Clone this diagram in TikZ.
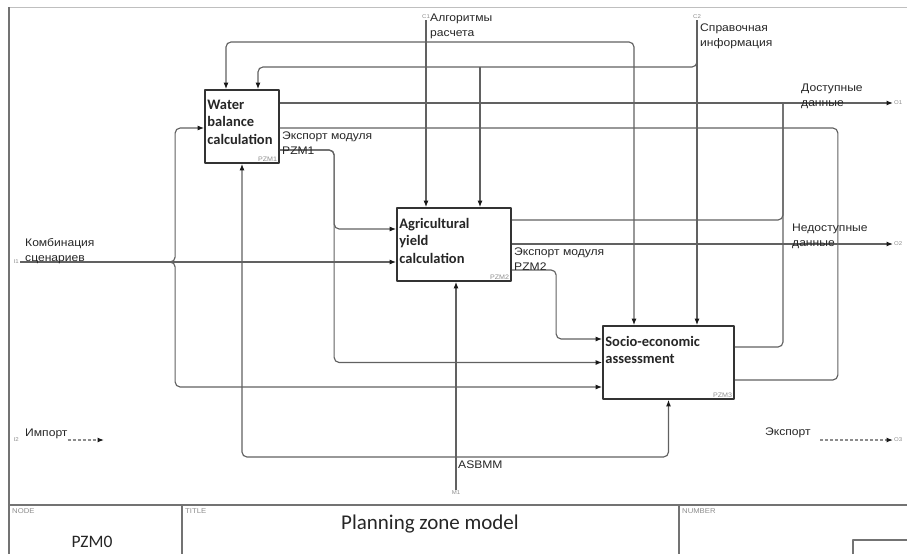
\documentclass[tikz,border=0pt]{standalone}
\usepackage{fontspec}
\setmainfont{Liberation Sans}[FakeStretch=1.1]
\newfontfamily\boxfont{Carlito}
\usetikzlibrary{arrows.meta}

\begin{document}
\begin{tikzpicture}[x=1pt, y=-1pt, line join=round,
  every node/.style={font=\fontsize{11}{15}\selectfont, text=black!85},
  fnbox/.style={draw=black!80, line width=1.7pt, minimum height=73pt, inner sep=0pt},
  fntext/.style={anchor=north west, align=left, inner xsep=3pt, inner ysep=10.5pt, font=\boxfont\bfseries\fontsize{14.5}{17.5}\selectfont},
  fnid/.style={anchor=south east, inner sep=2.5pt, text=black!45, font=\fontsize{6.5}{7}\selectfont},
  lbl/.style={anchor=north west, align=left, inner sep=0pt},
  tag/.style={text=black!45, font=\fontsize{5.5}{6}\selectfont, inner sep=1pt},
  flow/.style={draw=black!62, line width=1.15pt, rounded corners=5pt, -{Latex[length=6.5pt,width=5pt,color=black!90]}},
  pipe/.style={draw=black!62, line width=1.15pt, rounded corners=5pt},
  frame/.style={draw=black!55, line width=1.1pt}]
\useasboundingbox (0,0) rectangle (907,554);
% sheet frame and title block
\draw[draw=black!25, line width=0.6pt] (9,7) -- (907,7);
\draw[frame] (9,7) -- (9,554);
\draw[frame] (9,505) -- (907,505);
\draw[frame] (182,505) -- (182,554);
\draw[frame] (679,505) -- (679,554);
\draw[frame] (853,554) -- (853,540) -- (907,540);
\node[tag, anchor=north west, font=\fontsize{7}{8}\selectfont] at (11,507) {NODE};
\node[tag, anchor=north west, font=\fontsize{7}{8}\selectfont] at (184,507) {TITLE};
\node[tag, anchor=north west, font=\fontsize{7}{8}\selectfont] at (681,507) {NUMBER};
\node[font=\boxfont\fontsize{17.5}{20}\selectfont] (nodeid) at (92,542) {PZM0};
\node[font=\boxfont\fontsize{21}{24}\selectfont] (title) at (430,524) {Planning zone model};
% function boxes
\node[fnbox, minimum width=74pt] (wb) at (242,126.5) {};
\node[fnbox, minimum width=114pt] (ay) at (454,244.5) {};
\node[fnbox, minimum width=131pt] (se) at (668.5,362.5) {};
\node[fntext] (wbt) at (wb.north west) {Water\\balance\\calculation};
\node[fntext] (ayt) at (ay.north west) {Agricultural\\yield\\calculation};
\node[fntext] (set) at (se.north west) {Socio-economic\\assessment};
\node[fnid] at (wb.south east) {PZM1};
\node[fnid] at (ay.south east) {PZM2};
\node[fnid] at (se.south east) {PZM3};
% boundary points and branch points
\coordinate (c1) at (426,20);
\coordinate (c2) at (697,20);
\coordinate (i1) at (20,262);
\coordinate (i2) at (20,440);
\coordinate (m1) at (456,490);
\coordinate (o1) at (893,103);
\coordinate (o2) at (893,244);
\coordinate (o3) at (893,440);
\coordinate (c1j) at (426,42);
\coordinate (c2j) at (480,67);
\coordinate (i1j) at (168,262);
\coordinate (m1j) at (456,457);
\coordinate (o1j) at (783,103);
\coordinate (i2e) at (104,440);
\coordinate (o3s) at (820,440);
\node[tag, anchor=south] at (c1) {C1};
\node[tag, anchor=south] at (c2) {C2};
\node[tag, anchor=east] at (i1) {I1};
\node[tag, anchor=east] at (i2) {I2};
\node[tag, anchor=north] at (m1) {M1};
\node[tag, anchor=west] at (o1) {O1};
\node[tag, anchor=west] at (o2) {O2};
\node[tag, anchor=west] at (o3) {O3};
% controls
\draw[flow] (c1) -- (c1 |- ay.north);
\draw[flow] (c1j) -| ([xshift=-16pt]wb.north);
\draw[flow] (c1j) -| ([xshift=-34.5pt]se.north);
\draw[flow] (c2) -- (c2 |- se.north);
\draw[flow] (c2) |- (c2j) -| ([xshift=16pt]wb.north);
\draw[flow] (c2j) -- (c2j |- ay.north);
% inputs
\draw[flow] (i1) -- (ay.west |- i1);
\draw[flow] (i1j) -| ([xshift=-29pt,yshift=-1.5pt]wb.west) -- ([yshift=-1.5pt]wb.west);
\draw[flow] (i1j) -| ([xshift=-427pt,yshift=-24.5pt]se.west) -- ([yshift=-24.5pt]se.west);
% mechanism
\draw[flow] (m1) -- (m1 |- ay.south);
\draw[flow] (m1j) -| (wb.south);
\draw[flow] (m1j) -| (se.south);
% outputs
\draw[flow] (wb.east |- o1) -- (o1);
\draw[pipe] ([yshift=-1.5pt]wb.east) -| ([xshift=103pt,yshift=-17.5pt]se.east) -- ([yshift=-17.5pt]se.east);
\draw[pipe] ([yshift=24.5pt]ay.east) -| (o1j);
\draw[pipe] ([yshift=15.5pt]se.east) -| (o1j);
\draw[flow] ([yshift=-23.5pt]wb.east) -| ([xshift=-62pt,yshift=15.5pt]ay.west) -- ([yshift=15.5pt]ay.west);
\draw[flow] ([yshift=-23.5pt]wb.east) -| ([xshift=-268pt]se.west) -- (se.west);
\draw[flow] ([yshift=-25.5pt]ay.east) -| ([xshift=-46pt,yshift=23.5pt]se.west) -- ([yshift=23.5pt]se.west);
\draw[flow] (ay.east |- o2) -- (o2);
% arrow labels
\node[lbl] at (430,14) {Алгоритмы\\расчета};
\node[lbl] at (700,24) {Справочная\\информация};
\node[lbl] at (801,84) {Доступные\\данные};
\node[lbl] at (792,224) {Недоступные\\данные};
\node[lbl] at (282,132) {Экспорт модуля\\PZM1};
\node[lbl] at (514,248) {Экспорт модуля\\PZM2};
\node[lbl] at (25,238) {Комбинация\\сценариев};
\node[lbl] at (458,461) {ASBMM};
% tunnelled arrows
\node[lbl] (imp) at (25,429) {Импорт};
\node[lbl] (exp) at (765,428) {Экспорт};
\draw[flow, draw=black!45, dash pattern=on 3pt off 2pt] (imp.east |- i2) -- (i2e);
\draw[flow, draw=black!45, dash pattern=on 3pt off 2pt] (o3s) -- (o3);
\end{tikzpicture}
\end{document}
